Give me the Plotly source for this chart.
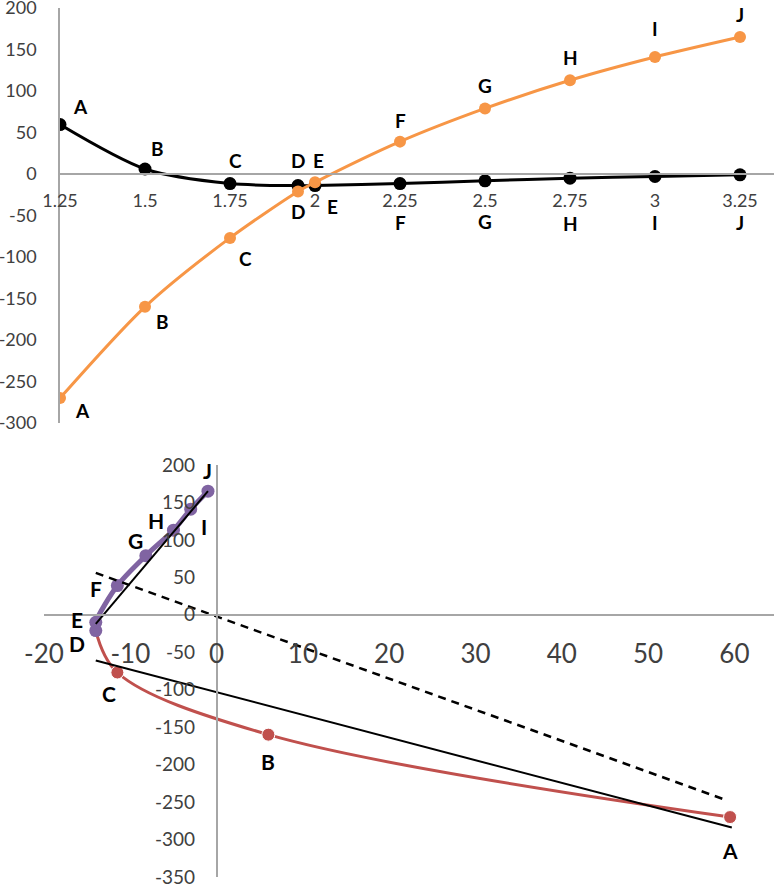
import plotly.graph_objects as go

# ---------------- data ----------------
point_labels = ["A", "B", "C", "D", "E", "F", "G", "H", "I", "J"]
x_values = [1.25, 1.5, 1.75, 1.95, 2.0, 2.25, 2.5, 2.75, 3.0, 3.25]
black_series = [59.5, 6, -11.5, -14, -14, -11.5, -8.2, -5, -3, -1]
orange_series = [-270, -160, -77, -21, -10, 39, 79, 113, 141, 165]

top_x_ticks = [1.25, 1.5, 1.75, 2.0, 2.25, 2.5, 2.75, 3.0, 3.25]
top_x_ticktext = ["1.25", "1.5", "1.75", "2", "2.25", "2.5", "2.75", "3", "3.25"]
top_y_ticks = [-300, -250, -200, -150, -100, -50, 0, 50, 100, 150, 200]
bot_x_ticks = [-20, -10, 0, 10, 20, 30, 40, 50, 60]
bot_y_ticks = [-350, -300, -250, -200, -150, -100, -50, 0, 50, 100, 150, 200]

# straight reference lines on the lower chart (end points)
upper_tangent_x = [-14, -1]
upper_tangent_y = [-12, 165]
lower_tangent_x = [-14, 59.7]
lower_tangent_y = [-61, -284]
dashed_line_x = [-14, 59.2]
dashed_line_y = [56, -248]

# ---------------- styles ----------------
W, H = 774, 886
ORANGE = "#f79646"
RED = "#c0504d"
PURPLE = "#8064a2"
AXIS = "#a6a6a6"
TICK = "#404040"
FONT = "Lato"


def px_x(p):
    return p / W


def px_y(p):
    return 1 - p / H


def hyphen_labels(vals):
    return [str(v) for v in vals]


fig = go.Figure()

# ---- top chart ----
fig.add_trace(go.Scatter(x=x_values, y=black_series, mode="lines+markers",
                         line=dict(color="black", width=3, shape="spline", smoothing=0.8),
                         marker=dict(color="black", size=13, opacity=1),
                         xaxis="x", yaxis="y", hoverinfo="skip"))
fig.add_trace(go.Scatter(x=x_values, y=orange_series, mode="lines+markers",
                         line=dict(color=ORANGE, width=3, shape="spline", smoothing=0.8),
                         marker=dict(color=ORANGE, size=12, opacity=1),
                         xaxis="x", yaxis="y", hoverinfo="skip"))

# ---- bottom chart ----
red_x = black_series[:4]
red_y = orange_series[:4]
fig.add_trace(go.Scatter(x=red_x, y=red_y, mode="lines+markers",
                         line=dict(color=RED, width=3, shape="spline", smoothing=1.0),
                         marker=dict(color=RED, size=[13, 13, 13, 0], opacity=1),
                         xaxis="x2", yaxis="y2", hoverinfo="skip"))
fig.add_trace(go.Scatter(x=black_series[3:], y=orange_series[3:], mode="lines+markers",
                         line=dict(color=PURPLE, width=5, shape="spline", smoothing=0.8),
                         marker=dict(color=PURPLE, size=13, opacity=1),
                         xaxis="x2", yaxis="y2", hoverinfo="skip"))
fig.add_trace(go.Scatter(x=upper_tangent_x, y=upper_tangent_y, mode="lines",
                         line=dict(color="black", width=2),
                         xaxis="x2", yaxis="y2", hoverinfo="skip"))
fig.add_trace(go.Scatter(x=lower_tangent_x, y=lower_tangent_y, mode="lines",
                         line=dict(color="black", width=2),
                         xaxis="x2", yaxis="y2", hoverinfo="skip"))
fig.add_trace(go.Scatter(x=dashed_line_x, y=dashed_line_y, mode="lines",
                         line=dict(color="black", width=2.5, dash="8px,6px"),
                         xaxis="x2", yaxis="y2", hoverinfo="skip"))

# ---- point labels ----
top_black_shift = [(20, 18), (12, 21), (5, 23), (0, 25), (3, 25),
                   (0, -39), (0, -41), (0, -45), (0, -46), (0, -48)]
top_orange_shift = [(22, -12), (17, -15), (15, -21), (0, -20), (17, -24),
                    (0, 21), (0, 23), (0, 23), (0, 28), (0, 23)]
bot_shift = [(0, -33), (0, -27), (-8, -21), (-19, -13), (-19, 3),
             (-21, -3), (-10, 15), (-17, 10), (13, -17), (0, 21)]

annotations = []
for i, lab in enumerate(point_labels):
    dx, dy = top_black_shift[i]
    annotations.append(dict(x=x_values[i], y=black_series[i], xref="x", yref="y",
                            text=lab, showarrow=False, xshift=dx, yshift=dy,
                            font=dict(family=FONT, size=19, color="black", weight="bold")))
    dx, dy = top_orange_shift[i]
    annotations.append(dict(x=x_values[i], y=orange_series[i], xref="x", yref="y",
                            text=lab, showarrow=False, xshift=dx, yshift=dy,
                            font=dict(family=FONT, size=19, color="black", weight="bold")))
    dx, dy = bot_shift[i]
    annotations.append(dict(x=black_series[i], y=orange_series[i], xref="x2", yref="y2",
                            text=lab, showarrow=False, xshift=dx, yshift=dy,
                            font=dict(family=FONT, size=21, color="black", weight="bold")))

# ---- axes ----
top_y0, top_y1 = px_y(423), px_y(8)
top_xpos = top_y0 + (0 - (-300)) / 500 * (top_y1 - top_y0)
bot_y0, bot_y1 = px_y(877), px_y(465)
bot_xpos = bot_y0 + (0 - (-350)) / 550 * (bot_y1 - bot_y0)
bot_x0 = px_x(44)
bot_range = [-20, -20 + (W - 44) / 8.63]
bot_ypos = bot_x0 + (0 - (-20)) / (bot_range[1] - bot_range[0]) * (1 - bot_x0)

common = dict(showgrid=False, zeroline=False, showline=True, linecolor=AXIS,
              linewidth=1.5, ticks="", fixedrange=True, automargin=False,
              ticklabeloverflow="allow")

fig.update_layout(
    template="none",
    width=W, height=H,
    margin=dict(l=0, r=0, t=0, b=0, pad=0),
    paper_bgcolor="white", plot_bgcolor="white",
    showlegend=False,
    annotations=annotations,
    xaxis=dict(domain=[px_x(60), 1], range=[1.25, 1.25 + (W - 60) / 340],
               anchor="free", position=top_xpos,
               tickvals=top_x_ticks, ticktext=top_x_ticktext,
               tickfont=dict(family=FONT, size=18, color=TICK),
               ticklabelstandoff=11, **common),
    yaxis=dict(domain=[top_y0, top_y1], range=[-300, 200], anchor="x",
               tickvals=top_y_ticks, ticktext=hyphen_labels(top_y_ticks),
               tickfont=dict(family=FONT, size=18, color=TICK),
               ticklabelstandoff=18, **common),
    xaxis2=dict(domain=[bot_x0, 1], range=bot_range,
                anchor="free", position=bot_xpos,
                tickvals=bot_x_ticks, ticktext=hyphen_labels(bot_x_ticks),
                tickfont=dict(family=FONT, size=26, color=TICK),
                ticklabelstandoff=16, **common),
    yaxis2=dict(domain=[bot_y0, bot_y1], range=[-350, 200],
                anchor="free", position=bot_ypos,
                tickvals=bot_y_ticks, ticktext=hyphen_labels(bot_y_ticks),
                tickfont=dict(family=FONT, size=19, color=TICK),
                ticklabelstandoff=17, **common),
)

fig.write_html("out.html", config={"displayModeBar": False},
               post_script="document.body.style.margin='0px';")
